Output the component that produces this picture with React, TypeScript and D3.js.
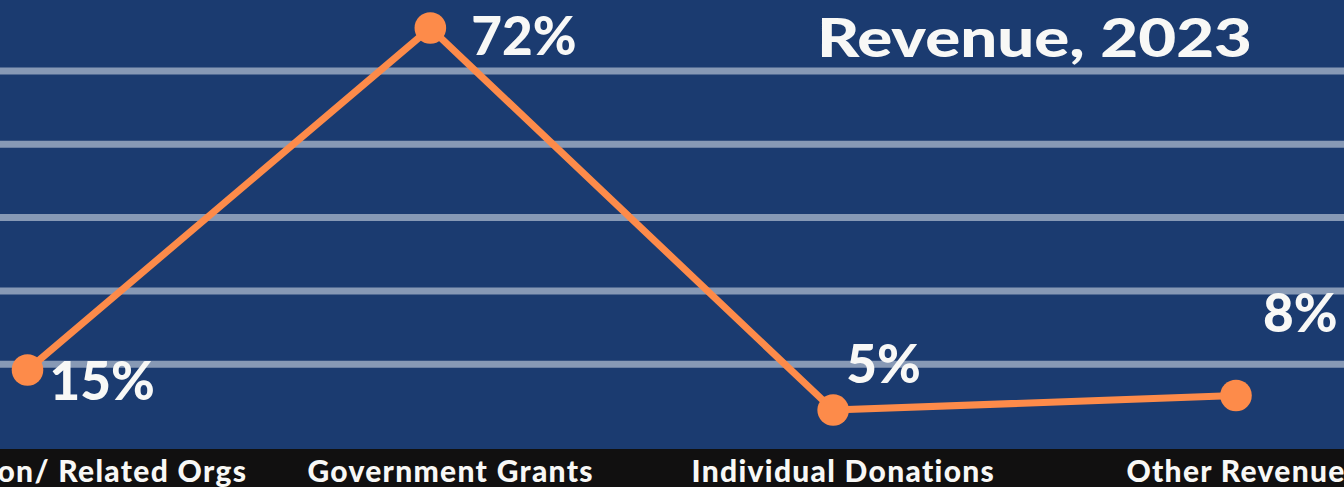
import React from "react";
import * as d3 from "d3";

const categories = ["Foundation/ Related Orgs", "Government Grants", "Individual Donations", "Other Revenue"];
const values = [0.922, 5.585, 0.376, 0.575];
const pctLabels = ["15%", "72%", "5%", "8%"];
const gridTicks = [1, 2, 3, 4, 5];
const title = "Revenue, 2023";

const W = 1344;
const H = 487;
const plotBottom = 449;
const labelOffsets: [number, number][] = [
  [22, 30],
  [41, 27],
  [13, -27],
  [27, -63],
];

const FONT = "Lato, 'Open Sans', sans-serif";

export default function App() {
  const x = d3.scalePoint<string>().domain(categories).range([27.5, 1236]);
  const xLabel = d3.scalePoint<string>().domain(categories).range([58, 1236]);
  const y = d3.scaleLinear().domain([0, 5]).range([437.65, 437.65 - 5 * 73.35]);
  const line = d3
    .line<number>()
    .x((_, i) => x(categories[i]) as number)
    .y((d) => y(d));

  return (
    <svg
      width={W}
      height={H}
      style={{ position: "absolute", left: 0, top: 0, display: "block" }}
    >
      <rect x={0} y={0} width={W} height={plotBottom} fill="#1b3b70" />
      <rect x={0} y={plotBottom} width={W} height={H - plotBottom} fill="#111010" />
      {gridTicks.map((t) => (
        <line key={t} x1={0} x2={W} y1={y(t)} y2={y(t)} stroke="#8799b5" strokeWidth={7} />
      ))}
      <text
        x={817}
        y={57}
        fill="#f8f8f6"
        fontFamily={FONT}
        fontWeight={900}
        fontSize={54}
        textLength={435}
        lengthAdjust="spacingAndGlyphs"
      >
        {title}
      </text>
      <path d={line(values) || ""} fill="none" stroke="#fd8b4a" strokeWidth={7} strokeLinejoin="round" />
      {values.map((v, i) => (
        <circle key={i} cx={x(categories[i])} cy={y(v)} r={15.8} fill="#fd8b4a" />
      ))}
      {values.map((v, i) => (
        <text
          key={"l" + i}
          x={(x(categories[i]) as number) + labelOffsets[i][0]}
          y={y(v) + labelOffsets[i][1]}
          fill="#f8f8f6"
          fontFamily={FONT}
          fontWeight={900}
          fontSize={53}
        >
          {pctLabels[i]}
        </text>
      ))}
      {categories.map((c) => (
        <text
          key={c}
          x={xLabel(c)}
          y={482}
          textAnchor="middle"
          fill="#f8f8f6"
          fontFamily={FONT}
          fontWeight={900}
          fontSize={30}
          letterSpacing={1.3}
        >
          {c}
        </text>
      ))}
    </svg>
  );
}
